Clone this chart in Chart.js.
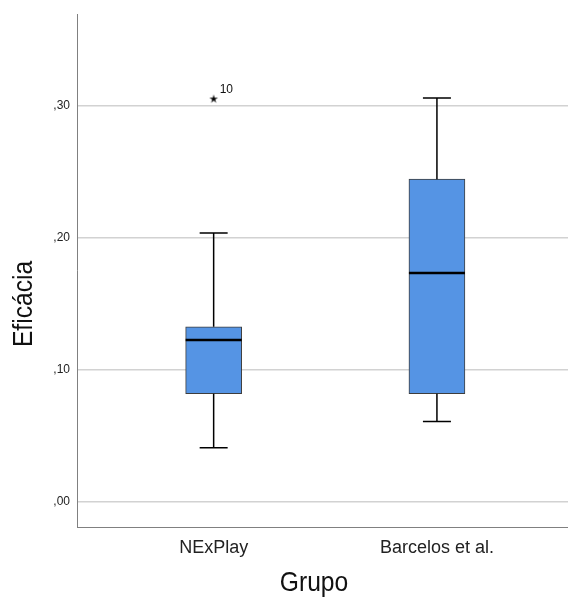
<!DOCTYPE html>
<html>
<head>
<meta charset="utf-8">
<script src="https://cdn.jsdelivr.net/npm/chart.js@4/dist/chart.umd.min.js"></script>
<style>
  html, body { margin: 0; padding: 0; background: #fff; }
</style>
</head>
<body>
<canvas id="myChart" width="568" height="598"></canvas>
<script>
// Box plot data
const groups = ['NExPlay', 'Barcelos et al.'];
const whiskerLow = [0.041, 0.061];
const q1 = [0.082, 0.082];
const median = [0.1226, 0.1734];
const q3 = [0.1327, 0.2445];
const whiskerHigh = [0.2038, 0.306];
// extreme outliers: group index, value, case number
const outlierGroup = [0];
const outlierValue = [0.3056];
const outlierCase = ['10'];
const yTicks = [0, 0.1, 0.2, 0.3];

const FONT = '"Liberation Sans", Arial, sans-serif';

// small 5-arm star used as the outlier marker
const starImg = document.createElement('canvas');
starImg.width = 10;
starImg.height = 10;
(() => {
  const c = starImg.getContext('2d');
  c.fillStyle = '#000';
  c.beginPath();
  for (let k = 0; k < 10; k++) {
    const r = k % 2 === 0 ? 4.5 : 1.6;
    const a = -Math.PI / 2 + k * Math.PI / 5;
    const px = 5 + r * Math.cos(a);
    const py = 5.5 + r * Math.sin(a);
    if (k === 0) c.moveTo(px, py); else c.lineTo(px, py);
  }
  c.closePath();
  c.fill();
})();

// draws whiskers, medians and outlier labels on top of the bars
const boxExtras = {
  id: 'boxExtras',
  afterDatasetsDraw(chart) {
    const ctx = chart.ctx;
    const xs = chart.scales.x;
    const ys = chart.scales.y;
    ctx.save();
    groups.forEach((g, i) => {
      const x = xs.getPixelForValue(i + 1);
      const cap = 14;
      const half = 28;
      ctx.strokeStyle = '#000';
      ctx.lineWidth = 1.5;
      ctx.beginPath();
      ctx.moveTo(x, ys.getPixelForValue(q3[i]));
      ctx.lineTo(x, ys.getPixelForValue(whiskerHigh[i]));
      ctx.moveTo(x - cap, ys.getPixelForValue(whiskerHigh[i]));
      ctx.lineTo(x + cap, ys.getPixelForValue(whiskerHigh[i]));
      ctx.moveTo(x, ys.getPixelForValue(q1[i]));
      ctx.lineTo(x, ys.getPixelForValue(whiskerLow[i]));
      ctx.moveTo(x - cap, ys.getPixelForValue(whiskerLow[i]));
      ctx.lineTo(x + cap, ys.getPixelForValue(whiskerLow[i]));
      ctx.stroke();
      // median
      ctx.lineWidth = 2.5;
      ctx.beginPath();
      ctx.moveTo(x - half, ys.getPixelForValue(median[i]));
      ctx.lineTo(x + half, ys.getPixelForValue(median[i]));
      ctx.stroke();
    });
    // outlier case labels
    ctx.fillStyle = '#111';
    ctx.font = '12px ' + FONT;
    ctx.textAlign = 'left';
    ctx.textBaseline = 'alphabetic';
    outlierGroup.forEach((gi, k) => {
      const x = xs.getPixelForValue(gi + 1);
      const y = ys.getPixelForValue(outlierValue[k]);
      ctx.fillText(outlierCase[k], x + 6, y - 6);
    });
    ctx.restore();
  },
  afterDraw(chart) {
    const ctx = chart.ctx;
    const ys = chart.scales.y;
    ctx.save();
    ctx.fillStyle = '#111';
    ctx.font = '28px ' + FONT;
    ctx.textAlign = 'center';
    ctx.textBaseline = 'middle';
    // y title, centred between the first and last tick
    const yMid = (ys.getPixelForValue(yTicks[0]) + ys.getPixelForValue(yTicks[yTicks.length - 1])) / 2;
    ctx.save();
    ctx.translate(24, yMid);
    ctx.rotate(-Math.PI / 2);
    ctx.scale(0.88, 1);
    ctx.fillText('Eficácia', 0, 0);
    ctx.restore();
    // x title
    ctx.save();
    ctx.translate(314, 583);
    ctx.scale(0.88, 1);
    ctx.fillText('Grupo', 0, 0);
    ctx.restore();
    ctx.restore();
  }
};

const ctx = document.getElementById('myChart').getContext('2d');
const myChart = new Chart(ctx, {
  type: 'bar',
  data: {
    datasets: [{
      type: 'bar',
      data: groups.map((g, i) => ({ x: i + 1, y: [q1[i], q3[i]] })),
      backgroundColor: '#5594e4',
      borderColor: '#3d3d3d',
      borderWidth: 1,
      borderSkipped: false,
      barThickness: 56
    }, {
      type: 'scatter',
      data: outlierGroup.map((gi, k) => ({ x: gi + 1, y: outlierValue[k] })),
      pointStyle: starImg,
      radius: 5
    }]
  },
  options: {
    responsive: false,
    animation: false,
    devicePixelRatio: 1,
    layout: { autoPadding: false, padding: { top: 12, left: 0, right: 0, bottom: 0 } },
    plugins: {
      legend: { display: false },
      tooltip: { enabled: false }
    },
    scales: {
      x: {
        type: 'linear',
        offset: false,
        min: 0.388,
        max: 2.587,
        afterBuildTicks: (scale) => { scale.ticks = groups.map((g, i) => ({ value: i + 1 })); },
        afterFit: (scale) => { scale.height = 71; scale.paddingLeft = 0; scale.paddingRight = 0; },
        ticks: {
          callback: (v) => groups[v - 1] || '',
          color: '#222',
          font: { family: FONT, size: 18 },
          padding: 10,
          maxRotation: 0,
          autoSkip: false
        },
        grid: { display: false, drawTicks: false, offset: false },
        border: { display: true, color: '#808080', width: 1 }
      },
      y: {
        min: -0.019,
        max: 0.3695,
        afterBuildTicks: (scale) => { scale.ticks = yTicks.map(v => ({ value: v })); },
        afterFit: (scale) => { scale.width = 77; },
        ticks: {
          callback: (v) => ',' + (v * 100).toFixed(0).padStart(2, '0'),
          color: '#222',
          font: { family: FONT, size: 12 },
          padding: 7
        },
        grid: { color: '#d2d2d2', lineWidth: 1.5, drawTicks: false },
        border: { display: true, color: '#808080', width: 1 }
      }
    }
  },
  plugins: [boxExtras]
});
</script>
</body>
</html>
